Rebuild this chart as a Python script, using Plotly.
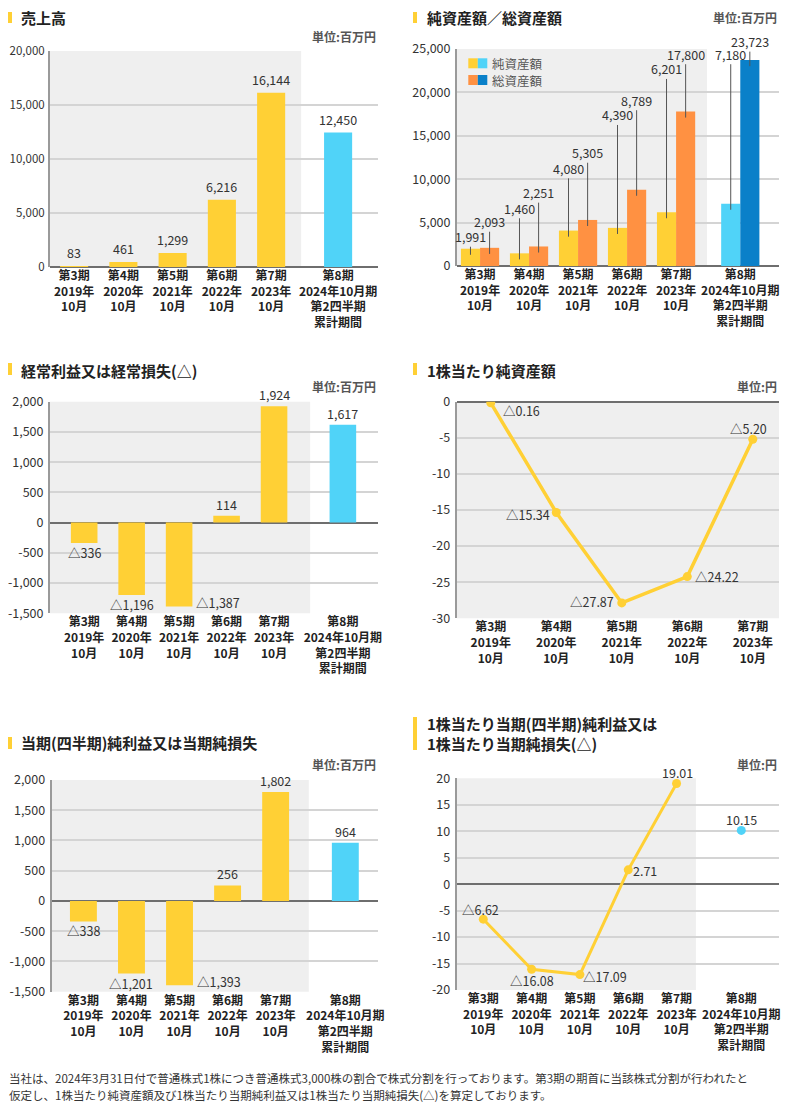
import plotly.graph_objects as go

# The page body has an 8px default margin: the figure is sized and positioned to compensate.
OFF = 8
W, H = 800 - OFF, 1115 - OFF
FONT = "Noto Sans CJK JP, sans-serif"
YELLOW, CYAN, ORANGE, BLUE = "#FFD035", "#50D3F8", "#FF9142", "#0A80C9"
GRAYBG, GRID, ZERO, AXIS, TXT = "#EFEFEF", "#D4D4D4", "#6E6E6E", "#9A9A9A", "#333333"

# ---------------- data ----------------
cats6 = ["第3期<br>2019年<br>10月", "第4期<br>2020年<br>10月", "第5期<br>2021年<br>10月",
         "第6期<br>2022年<br>10月", "第7期<br>2023年<br>10月",
         "第8期<br>2024年10月期<br>第2四半期<br>累計期間"]
cats5 = cats6[:5]
sales = [83, 461, 1299, 6216, 16144, 12450]
net_assets = [1991, 1460, 4080, 4390, 6201, 7180]
total_assets = [2093, 2251, 5305, 8789, 17800, 23723]
ordinary = [-336, -1196, -1387, 114, 1924, 1617]
bps = [-0.16, -15.34, -27.87, -24.22, -5.20]
net_income = [-338, -1201, -1393, 256, 1802, 964]
eps = [-6.62, -16.08, -17.09, 2.71, 19.01]
eps_q2 = [10.15]

# ---------------- layout constants ----------------
def px(x):
    return (x - OFF) / W

def py(y):
    return 1 - (y - OFF) / H

def fmt(v, dec=0):
    s = f"{abs(v):,.{dec}f}"
    return ("△" + s) if v < 0 else s

panels = {
    1: dict(xd=(50, 378), yd=(267, 51), pos=[0, 1, 2, 3, 4, 5.36], xr=(-0.49, 6.17), gray=4.61,
            yr=(0, 20000), step=5000, cats=cats6, tfs=11.5, sto=1),
    2: dict(xd=(457, 779), yd=(266, 49), pos=[0, 1, 2, 3, 4, 5.31], xr=(-0.47, 6.1), gray=4.63,
            yr=(0, 25000), step=5000, cats=cats6, tfs=12.5, sto=2),
    3: dict(xd=(50, 378), yd=(613.3, 401.7), pos=[0, 1, 2, 3, 4, 5.45], xr=(-0.72, 6.19), gray=4.76,
            yr=(-1500, 2000), step=500, cats=cats6, tfs=12.5, sto=2),
    4: dict(xd=(456.7, 779), yd=(618.3, 401.7), pos=[0, 1, 2, 3, 4], xr=(-0.52, 4.4), gray=4.4,
            yr=(-30, 0), step=5, cats=cats5, tfs=12.5, sto=2),
    5: dict(xd=(51.7, 378), yd=(991.7, 780), pos=[0, 1, 2, 3, 4, 5.45], xr=(-0.66, 6.13), gray=4.69,
            yr=(-1500, 2000), step=500, cats=cats6, tfs=12.5, sto=2),
    6: dict(xd=(456.7, 779), yd=(990, 778.3), pos=[0, 1, 2, 3, 4, 5.34], xr=(-0.55, 6.12), gray=4.4,
            yr=(-20, 20), step=5, cats=cats6, tfs=12.5, sto=2),
}

def sfx(i):
    return "" if i == 1 else str(i)

fig = go.Figure()
layout = dict(width=W, height=H, margin=dict(l=0, r=0, t=0, b=0, pad=0, autoexpand=False),
              paper_bgcolor="white", plot_bgcolor="white", showlegend=False, barmode="overlay",
              font=dict(family=FONT, color=TXT))
shapes, annotations = [], []

for i, p in panels.items():
    s = sfx(i)
    yt = list(range(p["yr"][0], p["yr"][1] + 1, p["step"]))
    layout["xaxis" + s] = dict(domain=[px(p["xd"][0]), px(p["xd"][1])], range=list(p["xr"]),
                               anchor="y" + s, tickvals=p["pos"][:len(p["cats"])], ticktext=p["cats"],
                               showgrid=False, zeroline=False, showline=False, ticks="",
                               automargin=False,
                               tickfont=dict(family=FONT, size=12, color="#222", weight="bold"),
                               fixedrange=True)
    layout["yaxis" + s] = dict(domain=[py(p["yd"][0]), py(p["yd"][1])], range=list(p["yr"]),
                               anchor="x" + s, tickvals=yt, ticktext=[f"{v:,}" for v in yt],
                               showgrid=True, gridcolor=GRID, gridwidth=1.5,
                               zeroline=True, zerolinecolor=ZERO, zerolinewidth=1.5,
                               showline=True, linecolor=AXIS, linewidth=2, ticks="",
                               ticklabelstandoff=p["sto"], automargin=False,
                               tickfont=dict(family=FONT, size=p["tfs"], color=TXT), fixedrange=True)
    shapes.append(dict(type="rect", xref="x" + s, yref="y" + s + " domain", x0=p["xr"][0], x1=p["gray"],
                       y0=0, y1=1, fillcolor=GRAYBG, line_width=0, layer="below"))

LBL = dict(size=12.5, color=TXT)

# ---------------- panel 1: sales ----------------
p = panels[1]
fig.add_trace(go.Bar(x=p["pos"], y=sales, width=0.57, xaxis="x", yaxis="y",
                     marker=dict(color=[YELLOW] * 5 + [CYAN], line_width=0)))
for x, v in zip(p["pos"], sales):
    annotations.append(dict(x=x, y=v, xref="x", yref="y", text=fmt(v), showarrow=False,
                            yanchor="bottom", yshift=3, borderpad=0, font=LBL))

# ---------------- panel 2: net / total assets ----------------
p = panels[2]
bw = 0.39
fig.add_trace(go.Bar(x=p["pos"], y=net_assets, width=bw, offset=-bw, xaxis="x2", yaxis="y2",
                     marker=dict(color=[YELLOW] * 5 + [CYAN], line_width=0)))
fig.add_trace(go.Bar(x=p["pos"], y=total_assets, width=bw, offset=0, xaxis="x2", yaxis="y2",
                     marker=dict(color=[ORANGE] * 5 + [BLUE], line_width=0)))
net_label_y = [3375, 6650, 11250, 17400, 22700, 24400]
tot_label_y = [5100, 8450, 13050, 19100, 24400, 25850]
for xo, vals, lys in [(-bw / 2, net_assets, net_label_y), (bw / 2, total_assets, tot_label_y)]:
    for x, v, ly in zip(p["pos"], vals, lys):
        annotations.append(dict(x=x + xo, y=v - 700, xref="x2", yref="y2", ax=0, axref="pixel",
                                ay=ly, ayref="y2", text=fmt(v), showarrow=True, arrowhead=0,
                                arrowwidth=1, arrowcolor="#555", standoff=0, startstandoff=0,
                                borderpad=0, font=LBL))
# legend swatches
for (yy, c1, c2, lab) in [(63.3, YELLOW, CYAN, "純資産額"), (80, ORANGE, BLUE, "総資産額")]:
    shapes.append(dict(type="rect", xref="paper", yref="paper", x0=px(468.3), x1=px(477.8),
                       y0=py(yy - 5), y1=py(yy + 5), fillcolor=c1, line_width=0))
    shapes.append(dict(type="rect", xref="paper", yref="paper", x0=px(477.8), x1=px(487.3),
                       y0=py(yy - 5), y1=py(yy + 5), fillcolor=c2, line_width=0))
    annotations.append(dict(x=px(491), y=py(yy), xref="paper", yref="paper", text=lab,
                            showarrow=False, xanchor="left", yanchor="middle", borderpad=0,
                            font=dict(size=12.5, color="#555")))

# ---------------- panel 3 & 5: profit bars ----------------
for i, vals in [(3, ordinary), (5, net_income)]:
    p = panels[i]
    s = sfx(i)
    fig.add_trace(go.Bar(x=p["pos"], y=vals, width=0.56, xaxis="x" + s, yaxis="y" + s,
                         marker=dict(color=[YELLOW] * 5 + [CYAN], line_width=0)))
    for k, (x, v) in enumerate(zip(p["pos"], vals)):
        if k == 2:
            a = dict(x=x + 0.28, y=v, xanchor="left", yanchor="middle", xshift=3, yshift=4)
        elif v < 0:
            a = dict(x=x, y=v, yanchor="top", yshift=1)
        else:
            a = dict(x=x, y=v, yanchor="bottom", yshift=1)
        a.update(xref="x" + s, yref="y" + s, text=fmt(v), showarrow=False, borderpad=0, font=LBL)
        annotations.append(a)

# ---------------- panel 4: BPS line ----------------
p = panels[4]
fig.add_trace(go.Scatter(x=p["pos"], y=bps, xaxis="x4", yaxis="y4", mode="lines+markers",
                         line=dict(color=YELLOW, width=3.5), marker=dict(color=YELLOW, size=9)))
bps_off = [(31, -8), (-28, -2), (-30, 1), (30, 0), (-4, 11)]
for x, v, (dx, dy) in zip(p["pos"], bps, bps_off):
    annotations.append(dict(x=x, y=v, xref="x4", yref="y4", text=fmt(v, 2), showarrow=False,
                            xshift=dx, yshift=dy, borderpad=0, font=LBL))

# ---------------- panel 6: EPS line ----------------
p = panels[6]
fig.add_trace(go.Scatter(x=p["pos"][:5], y=eps, xaxis="x6", yaxis="y6", mode="lines+markers",
                         line=dict(color=YELLOW, width=3), marker=dict(color=YELLOW, size=9)))
fig.add_trace(go.Scatter(x=p["pos"][5:], y=eps_q2, xaxis="x6", yaxis="y6", mode="markers",
                         marker=dict(color=CYAN, size=9)))
eps_off = [(-3, 10), (0, -11), (25, -1.5), (17, -1), (1, 11.5), (0, 11)]
for x, v, (dx, dy) in zip(p["pos"], eps + eps_q2, eps_off):
    annotations.append(dict(x=x, y=v, xref="x6", yref="y6", text=fmt(v, 2), showarrow=False,
                            xshift=dx, yshift=dy, borderpad=0, font=LBL))

# ---------------- titles ----------------
titles = [
    (20, 17, "売上高", (8, 12, 23)),
    (426, 17, "純資産額／総資産額", (413, 12, 23)),
    (20, 370, "経常利益又は経常損失(△)", (8, 363, 375)),
    (426, 370, "1株当たり純資産額", (413, 363, 375)),
    (20, 743, "当期(四半期)純利益又は当期純損失", (8, 737, 749)),
    (426, 733.5, "1株当たり当期(四半期)純利益又は<br>1株当たり当期純損失(△)", (413, 717, 750)),
]
for (tx, ty, t, (mx, my0, my1)) in titles:
    annotations.append(dict(x=px(tx), y=py(ty), xref="paper", yref="paper", text=t, showarrow=False,
                            xanchor="left", yanchor="middle", align="left", borderpad=0,
                            font=dict(size=15, color="#222", weight="bold")))
    shapes.append(dict(type="rect", xref="paper", yref="paper", x0=px(mx), x1=px(mx + 4),
                       y0=py(my1), y1=py(my0), fillcolor=YELLOW, line_width=0))

units = [(377, 37, "単位:百万円"), (778, 18, "単位:百万円"), (377, 386, "単位:百万円"),
         (778, 386, "単位:円"), (377, 764, "単位:百万円"), (778, 764, "単位:円")]
for (ux, uy, t) in units:
    annotations.append(dict(x=px(ux), y=py(uy), xref="paper", yref="paper", text=t, showarrow=False,
                            xanchor="right", yanchor="middle", borderpad=0,
                            font=dict(size=12, color="#555", weight="bold")))

# ---------------- footnote ----------------
notes = ["当社は、2024年3月31日付で普通株式1株につき普通株式3,000株の割合で株式分割を行っております。第3期の期首に当該株式分割が行われたと",
         "仮定し、1株当たり純資産額及び1株当たり当期純利益又は1株当たり当期純損失(△)を算定しております。"]
for k, t in enumerate(notes):
    annotations.append(dict(x=px(8), y=py(1078 + 17 * k), xref="paper", yref="paper", text=t,
                            showarrow=False, xanchor="left", yanchor="middle", borderpad=0,
                            font=dict(size=11.5, color=TXT)))

layout["shapes"] = shapes
layout["annotations"] = annotations
fig.update_layout(**layout)
fig.write_html("out.html")
